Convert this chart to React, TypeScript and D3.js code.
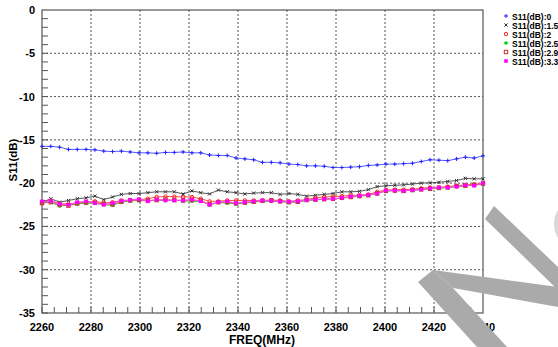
import React, { useEffect, useRef } from "react";
import { select, scaleLinear, line, range } from "d3";

const freqs = [
  2260, 2263.6, 2267.2, 2270.8, 2274.4, 2278, 2281.6, 2285.2, 2288.8, 2292.4,
  2296, 2299.6, 2303.2, 2306.8, 2310.4, 2314, 2317.6, 2321.2, 2324.8, 2328.4,
  2332, 2335.6, 2339.2, 2342.8, 2346.4, 2350, 2353.6, 2357.2, 2360.8, 2364.4,
  2368, 2371.6, 2375.2, 2378.8, 2382.4, 2386, 2389.6, 2393.2, 2396.8, 2400.4,
  2404, 2407.6, 2411.2, 2414.8, 2418.4, 2422, 2425.6, 2429.2, 2432.8, 2436.4, 2440,
];

const s11_0 = [
  -15.75, -15.75, -15.85, -16.1, -16.1, -16.1, -16.15, -16.3, -16.35, -16.3,
  -16.4, -16.5, -16.5, -16.55, -16.45, -16.45, -16.4, -16.5, -16.5, -16.75,
  -16.8, -16.8, -17.1, -17.2, -17.3, -17.6, -17.6, -17.65, -17.8, -17.85,
  -18.0, -18.0, -18.05, -18.2, -18.2, -18.15, -18.1, -17.95, -17.9, -17.8,
  -17.8, -17.75, -17.7, -17.5, -17.3, -17.35, -17.4, -17.2, -17.0, -17.1, -16.85,
];
const s11_15 = [
  -22.2, -21.8, -22.2, -22.0, -21.8, -21.7, -21.5, -21.9, -21.6, -21.3,
  -21.2, -21.2, -21.1, -21.0, -21.0, -21.0, -21.25, -20.9, -21.1, -21.25,
  -20.8, -21.0, -21.1, -21.25, -21.15, -21.1, -21.1, -21.3, -21.2, -21.3,
  -21.5, -21.4, -21.3, -21.2, -21.0, -21.0, -20.95, -20.75, -20.4, -20.3,
  -20.25, -20.2, -20.1, -20.0, -19.95, -19.9, -19.8, -19.7, -19.45, -19.5, -19.5,
];
const s11_2 = [
  -22.3, -22.0, -22.4, -22.4, -22.3, -22.2, -22.1, -22.3, -22.2, -22.0,
  -21.95, -21.9, -21.8, -21.6, -21.55, -21.55, -21.6, -21.6, -21.8, -22.1,
  -22.1, -22.0, -22.0, -22.0, -22.0, -22.0, -21.95, -22.0, -22.1, -22.0,
  -21.9, -21.7, -21.6, -21.55, -21.5, -21.4, -21.4, -21.3, -21.0, -20.8,
  -20.75, -20.75, -20.7, -20.6, -20.5, -20.5, -20.4, -20.3, -20.2, -20.15, -20.0,
];
const s11_25 = [
  -22.2, -22.2, -22.65, -22.5, -22.4, -22.3, -22.3, -22.5, -22.55, -22.2,
  -22.05, -22.0, -22.05, -22.0, -22.0, -22.0, -22.05, -22.1, -22.1, -22.5,
  -22.25, -22.3, -22.4, -22.3, -22.2, -22.1, -22.1, -22.15, -22.2, -22.2,
  -22.0, -21.95, -21.85, -21.8, -21.75, -21.6, -21.5, -21.4, -21.15, -20.9,
  -20.9, -20.85, -20.85, -20.75, -20.6, -20.6, -20.5, -20.4, -20.3, -20.25, -20.1,
];
const s11_29 = [
  -22.3, -22.2, -22.5, -22.6, -22.35, -22.25, -22.25, -22.4, -22.45, -22.15,
  -22.0, -21.95, -22.0, -21.95, -21.9, -21.95, -22.0, -21.95, -22.0, -22.45,
  -22.2, -22.2, -22.35, -22.25, -22.15, -22.05, -22.0, -22.1, -22.2, -22.15,
  -21.95, -21.9, -21.85, -21.8, -21.7, -21.6, -21.5, -21.4, -21.2, -20.9,
  -20.85, -20.9, -20.8, -20.7, -20.65, -20.55, -20.5, -20.35, -20.3, -20.2, -20.05,
];
const s11_33 = [
  -22.1, -22.05, -22.4, -22.5, -22.2, -22.1, -22.3, -22.5, -22.3, -22.05,
  -21.95, -21.85, -22.1, -21.9, -22.0, -22.0, -22.0, -21.9, -22.1, -22.5,
  -22.2, -22.1, -22.3, -22.2, -22.1, -22.0, -22.05, -22.1, -22.15, -22.1,
  -21.95, -21.9, -21.85, -21.8, -21.7, -21.55, -21.45, -21.35, -21.2, -20.85,
  -20.85, -20.9, -20.8, -20.75, -20.6, -20.5, -20.5, -20.4, -20.25, -20.3, -20.0,
];

const seriesNames = [
  "S11(dB):0",
  "S11(dB):1.5",
  "S11(dB):2",
  "S11(dB):2.5",
  "S11(dB):2.9",
  "S11(dB):3.3",
];
const seriesValues = [s11_0, s11_15, s11_2, s11_25, s11_29, s11_33];
const lineColors = ["#5a5aff", "#555555", "#ff5050", "#30d030", "#e06060", "#ff40ff"];
const markColors = ["#2020ff", "#303030", "#ff2020", "#00d000", "#c03030", "#ff00ff"];
const seriesMarkers = ["plus", "cross", "circle", "dot", "square", "fsquare"];

const xTicks = [2260, 2280, 2300, 2320, 2340, 2360, 2380, 2400, 2420, 2440];
const yTicks = [0, -5, -10, -15, -20, -25, -30, -35];

const W = 558;
const H = 347;
const FONT = "'Liberation Sans', Arial, sans-serif";

const App = () => {
  const svgRef = useRef<SVGSVGElement>(null);

  useEffect(() => {
    const svg = select(svgRef.current);
    svg.selectAll("*").remove();

    const xScale = scaleLinear().domain([2260, 2440]).range([42, 483]);
    const yScale = scaleLinear().domain([-35, 0]).range([313, 10]);

    const grid = svg.append("g");
    // dotted grid
    grid
      .selectAll(".vg")
      .data(xTicks.slice(1, -1))
      .join("line")
      .attr("x1", (d) => xScale(d))
      .attr("x2", (d) => xScale(d))
      .attr("y1", yScale(0))
      .attr("y2", yScale(-35))
      .attr("stroke", "#555")
      .attr("stroke-dasharray", "2,2");
    grid
      .selectAll(".hg")
      .data(yTicks.slice(1, -1))
      .join("line")
      .attr("x1", xScale(2260))
      .attr("x2", xScale(2440))
      .attr("y1", (d) => yScale(d))
      .attr("y2", (d) => yScale(d))
      .attr("stroke", "#555")
      .attr("stroke-dasharray", "2,2");

    // minor ticks
    grid
      .selectAll(".ym")
      .data(range(-35, 0, 1))
      .join("line")
      .attr("x1", xScale(2260))
      .attr("x2", xScale(2260) + 6)
      .attr("y1", (d) => yScale(d))
      .attr("y2", (d) => yScale(d))
      .attr("stroke", "#555");
    grid
      .selectAll(".xm")
      .data(range(2260, 2440, 5))
      .join("line")
      .attr("x1", (d) => xScale(d))
      .attr("x2", (d) => xScale(d))
      .attr("y1", yScale(-35))
      .attr("y2", yScale(-35) - 6)
      .attr("stroke", "#555");

    // frame
    svg
      .append("rect")
      .attr("x", xScale(2260))
      .attr("y", yScale(0))
      .attr("width", xScale(2440) - xScale(2260))
      .attr("height", yScale(-35) - yScale(0))
      .attr("fill", "none")
      .attr("stroke", "#555")
      .attr("stroke-width", 1.2);

    // tick labels
    svg
      .selectAll(".yl")
      .data(yTicks)
      .join("text")
      .attr("x", 35)
      .attr("y", (d) => yScale(d) + 4)
      .attr("text-anchor", "end")
      .style("font", `bold 11px ${FONT}`)
      .text((d) => d);
    svg
      .selectAll(".xl")
      .data(xTicks)
      .join("text")
      .attr("x", (d) => xScale(d))
      .attr("y", 331)
      .attr("text-anchor", "middle")
      .style("font", `bold 11px ${FONT}`)
      .text((d) => d);

    svg
      .append("text")
      .attr("transform", "translate(17,160) rotate(-90)")
      .attr("text-anchor", "middle")
      .style("font", `bold 11.5px ${FONT}`)
      .text("S11(dB)");
    svg
      .append("text")
      .attr("x", 262)
      .attr("y", 344)
      .attr("text-anchor", "middle")
      .style("font", `bold 12px ${FONT}`)
      .text("FREQ(MHz)");

    const drawMarker = (g, kind, color, cx, cy) => {
      if (kind === "plus") {
        g.append("path").attr("d", `M${cx - 2},${cy}H${cx + 2}M${cx},${cy - 2}V${cy + 2}`).attr("stroke", color);
      } else if (kind === "cross") {
        g.append("path").attr("d", `M${cx - 1.6},${cy - 1.6}L${cx + 1.6},${cy + 1.6}M${cx - 1.6},${cy + 1.6}L${cx + 1.6},${cy - 1.6}`).attr("stroke", color);
      } else if (kind === "circle") {
        g.append("circle").attr("cx", cx).attr("cy", cy).attr("r", 1.7).attr("fill", "none").attr("stroke", color);
      } else if (kind === "dot") {
        g.append("circle").attr("cx", cx).attr("cy", cy).attr("r", 1.8).attr("fill", color);
      } else if (kind === "square") {
        g.append("rect").attr("x", cx - 1.7).attr("y", cy - 1.7).attr("width", 3.4).attr("height", 3.4).attr("fill", "none").attr("stroke", color);
      } else {
        g.append("rect").attr("x", cx - 1.8).attr("y", cy - 1.8).attr("width", 3.6).attr("height", 3.6).attr("fill", color);
      }
    };

    const lineGen = line<number>()
      .x((d, i) => xScale(freqs[i]))
      .y((d) => yScale(d));

    seriesValues.forEach((vals, si) => {
      const g = svg.append("g");
      g.append("path")
        .attr("d", lineGen(vals))
        .attr("fill", "none")
        .attr("stroke", lineColors[si])
        .attr("stroke-width", 1);
      vals.forEach((v, i) => {
        drawMarker(g, seriesMarkers[si], markColors[si], xScale(freqs[i]), yScale(v));
      });
    });

    // legend
    seriesNames.forEach((name, i) => {
      const ly = 16 + i * 9;
      const g = svg.append("g");
      drawMarker(g, seriesMarkers[i], markColors[i], 506, ly);
      g.append("text")
        .attr("x", 512)
        .attr("y", ly + 3.5)
        .style("font", `bold 8.5px ${FONT}`)
        .text(name);
    });

    // watermark
    const wm = svg.append("g").attr("fill", "#aaaaaa");
    wm.append("polygon").attr("points", "494,206 558,267 558,290 485,219");
    wm.append("polygon").attr("points", "433,270 558,287 558,307 453,288");
    wm.append("polygon").attr("points", "418,282 433,270 453,288 507,347 477,347");
    svg
      .append("ellipse")
      .attr("cx", 602)
      .attr("cy", 224)
      .attr("rx", 46)
      .attr("ry", 32)
      .attr("fill", "none")
      .attr("stroke", "#d8d8d8")
      .attr("stroke-width", 4);
  }, []);

  return (
    <svg
      ref={svgRef}
      width={W}
      height={H}
      style={{ position: "absolute", left: 0, top: 0, background: "#fff" }}
    />
  );
};

export default App;
